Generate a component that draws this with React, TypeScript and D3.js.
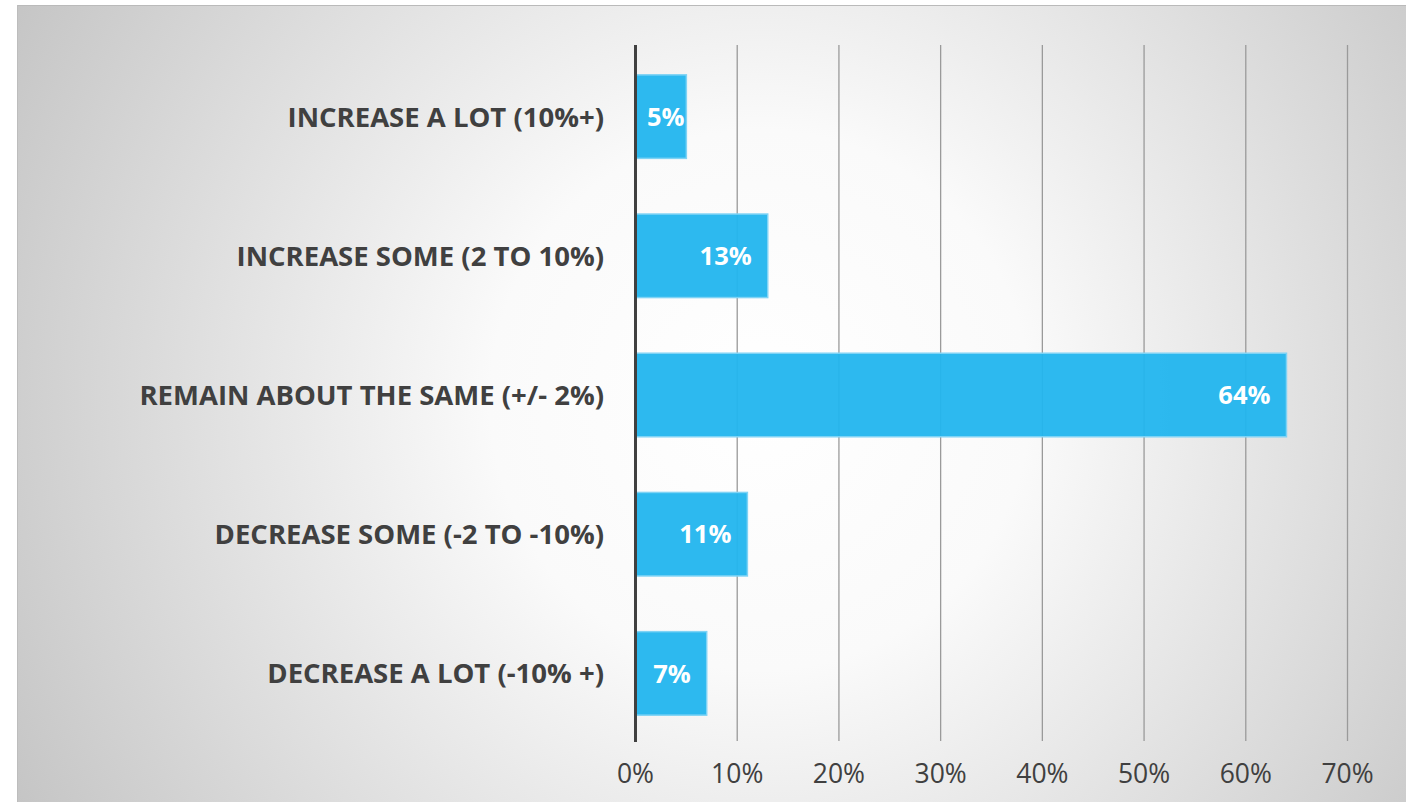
import React from "react";
import * as d3 from "d3";

const categories = [
  "INCREASE A LOT (10%+)",
  "INCREASE SOME (2 TO 10%)",
  "REMAIN ABOUT THE SAME (+/- 2%)",
  "DECREASE SOME (-2 TO -10%)",
  "DECREASE A LOT (-10% +)",
];
const values = [5, 13, 64, 11, 7];
const ticks = [0, 10, 20, 30, 40, 50, 60, 70];

const W = 1406;
const H = 802;

export default function App() {
  const x = d3.scaleLinear().domain([0, 70]).range([635.5, 1347.5]);
  const y = d3.scaleBand<string>().domain(categories).range([47, 743]).paddingInner(0.4).paddingOuter(0.2);
  const font = "'Open Sans', sans-serif";
  return (
    <svg width={W} height={H} style={{ position: "absolute", left: 0, top: 0 }}>
      <defs>
        <radialGradient id="bg" gradientUnits="userSpaceOnUse" cx={760} cy={400} r={900}>
          <stop offset="0" stopColor="#ffffff" />
          <stop offset="0.3" stopColor="#fafafa" />
          <stop offset="1" stopColor="#c0c0c0" />
        </radialGradient>
      </defs>
      <rect x={0} y={0} width={W} height={H} fill="#ffffff" />
      <rect x={17} y={5} width={W - 17} height={H - 5} fill="url(#bg)" />
      <line x1={17} x2={W} y1={5.5} y2={5.5} stroke="#bababa" strokeWidth={1} />
      <line x1={17.5} x2={17.5} y1={5} y2={H} stroke="#bdbdbd" strokeWidth={1} />
      {ticks.slice(1).map((t) => (
        <line key={t} x1={x(t)} x2={x(t)} y1={45} y2={741} stroke="#9a9a9a" strokeWidth={1.3} />
      ))}
      {categories.map((c, i) => {
        const x0 = x(0);
        const x1 = x(values[i]);
        const yy = y(c)!;
        const bh = y.bandwidth();
        const label = `${values[i]}%`;
        const estW = label.length * 15 + 4;
        const tx = Math.max(x1 - 16, x0 + 15 + estW);
        return (
          <g key={c}>
            <rect x={x0} y={yy} width={x1 - x0} height={bh} fill="#22b5ee" fillOpacity={0.95} stroke="#7fd3f5" strokeWidth={1.5} />
            <text x={tx} y={yy + bh / 2} dy="0.36em" textAnchor="end" fill="#ffffff" fontFamily={font} fontWeight={700} fontSize={25.5}>
              {label}
            </text>
            <text x={604} y={yy + bh / 2} dy="0.36em" textAnchor="end" fill="#404040" fontFamily={font} fontWeight={700} fontSize={27.5}>
              {c}
            </text>
          </g>
        );
      })}
      <line x1={x(0)} x2={x(0)} y1={45} y2={742} stroke="#404040" strokeWidth={3} />
      {ticks.map((t) => (
        <text key={t} x={x(t)} y={783} textAnchor="middle" fill="#404040" fontFamily={font} fontSize={26.5}>
          {`${t}%`}
        </text>
      ))}
    </svg>
  );
}
